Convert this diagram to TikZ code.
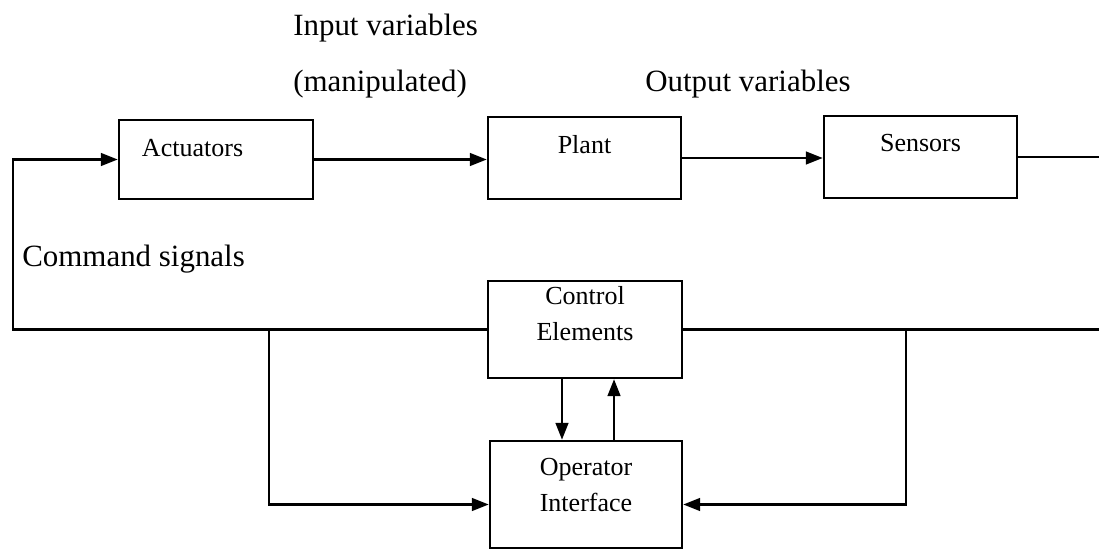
\documentclass[tikz,border=0pt]{standalone}
\usepackage{fontspec}
\setmainfont{Liberation Serif}
\usetikzlibrary{arrows.meta}

\begin{document}
\begin{tikzpicture}[x=0.025cm,y=-0.025cm,
    blk/.style={draw,line width=1.7pt,inner sep=0pt,align=center,font=\fontsize{18.5}{25}\selectfont},
    lbl/.style={inner sep=0pt,anchor=base west,font=\fontsize{22}{26}\selectfont},
    wire/.style={line width=1.7pt},
    arr/.style={line width=1.7pt,-{Triangle[length=12pt,width=9pt]}}]
      \useasboundingbox (0,0) rectangle (1099,551) ;
      % texts
      \node[lbl] (inp) at (293,36) {Input variables} ;
      \node[lbl] (man) at (293,92) {(manipulated)} ;
      \node[lbl] (out) at (645,92) {Output variables} ;
      \node[lbl] (cmd) at (22,266) {Command signals} ;
      % blocks
      \node[blk,minimum width=4.85cm,minimum height=1.975cm,text width=3.7cm,align=left,
            text height=0.925cm,text depth=1.05cm] (act) at (216,159.5) {Actuators} ;
      \node[blk,minimum width=4.825cm,minimum height=2.05cm,
            text height=0.925cm,text depth=1.125cm] (plant) at (584.5,158) {Plant} ;
      \node[blk,minimum width=4.825cm,minimum height=2.05cm,
            text height=0.9cm,text depth=1.15cm] (sens) at (920.5,157) {Sensors} ;
      \node[blk,minimum width=4.85cm,minimum height=2.425cm,
            text height=1.475cm,text depth=0.95cm] (ctrl) at (585,329.5) {Control\\Elements} ;
      \node[blk,minimum width=4.8cm,minimum height=2.675cm,
            text height=1.75cm,text depth=0.925cm] (oper) at (586,494.5) {Operator\\Interface} ;
      \coordinate (lft) at (13,0) ;
      \coordinate (rgt) at (1099,0) ;
      \coordinate (brl) at (269,0) ;
      \coordinate (brr) at (906,0) ;
      % connections
      \draw[arr] (ctrl.west) -- (ctrl.west -| lft) |- (act.west) ;
      \draw[arr] (act.east) -- (act.east -| plant.west) ;
      \draw[arr] (plant.east) -- (plant.east -| sens.west) ;
      \draw[wire] (sens.east) -- (sens.east -| rgt) ;
      \draw[wire] (ctrl.east) -- (ctrl.east -| rgt) ;
      \draw[arr] (ctrl.west -| brl) |- ([yshift=-0.25cm]oper.west) ;
      \draw[arr] (ctrl.east -| brr) |- ([yshift=-0.25cm]oper.east) ;
      \draw[arr] ([xshift=-0.575cm]ctrl.south) -- ([xshift=-0.575cm]ctrl.south |- oper.north) ;
      \draw[arr] ([xshift=0.7cm]oper.north) -- ([xshift=0.7cm]oper.north |- ctrl.south) ;
    \end{tikzpicture}
\end{document}
